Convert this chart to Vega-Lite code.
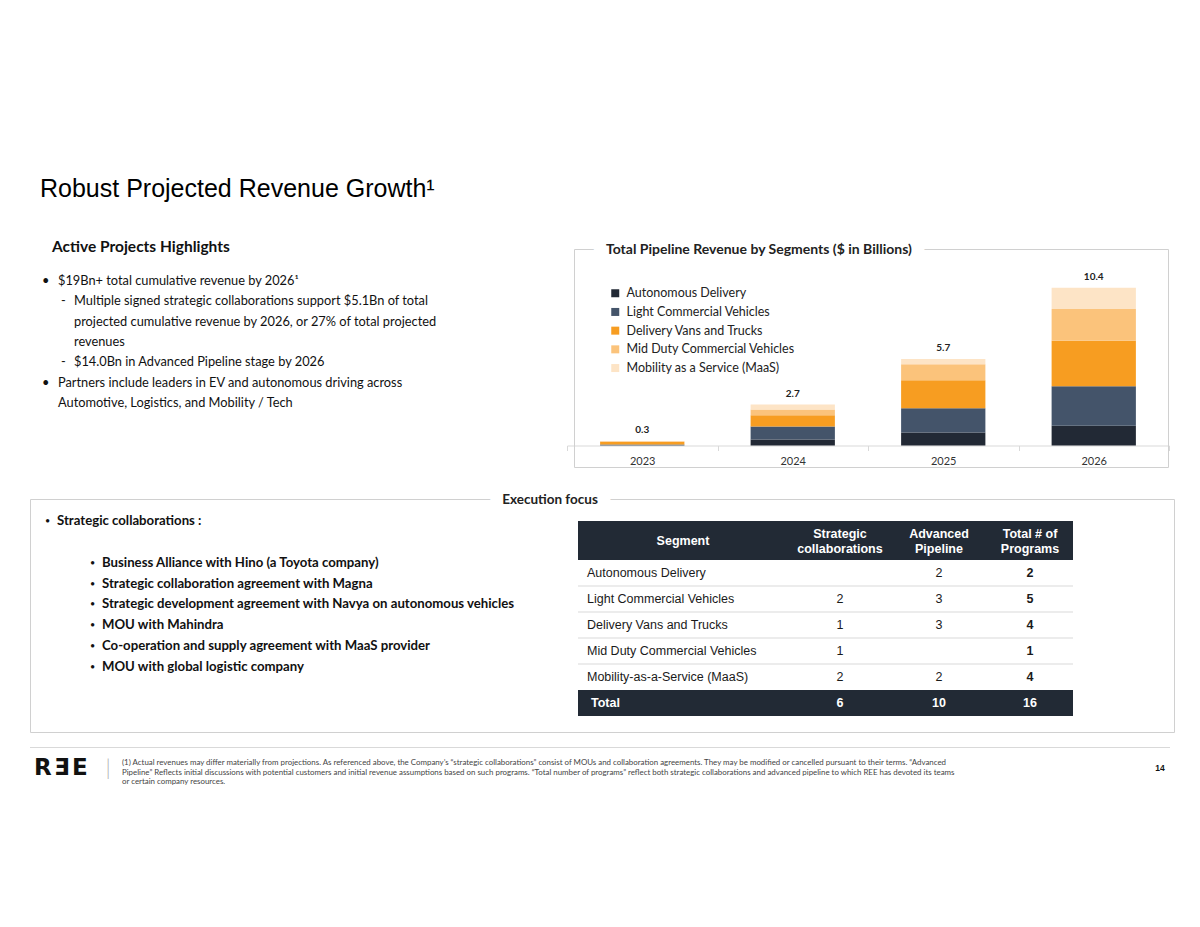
{
  "$schema": "https://vega.github.io/schema/vega-lite/v6.json",
  "width": 1200,
  "height": 927,
  "autosize": {"type": "fit", "contains": "padding"},
  "padding": 0,
  "background": "white",
  "config": {"view": {"stroke": null}, "font": "Lato"},
  "resolve": {"scale": {"x": "independent", "y": "independent", "color": "independent"}},
  "layer": [
    {
      "data": {"values": [
        {"kind": "title", "line": "l1", "level": 0, "marker": "", "text": "Robust Projected Revenue Growth¹"},
        {"kind": "heading", "line": "l1", "level": 0, "marker": "", "text": "Active Projects Highlights"},
        {"kind": "item", "line": "l1", "level": 1, "marker": "•", "text": "$19Bn+ total cumulative revenue by 2026¹"},
        {"kind": "item", "line": "l2", "level": 2, "marker": "-", "text": "Multiple signed strategic collaborations support $5.1Bn of total"},
        {"kind": "item", "line": "l3", "level": 2, "marker": "", "text": "projected cumulative revenue by 2026, or 27% of total projected"},
        {"kind": "item", "line": "l4", "level": 2, "marker": "", "text": "revenues"},
        {"kind": "item", "line": "l5", "level": 2, "marker": "-", "text": "$14.0Bn in Advanced Pipeline stage by 2026"},
        {"kind": "item", "line": "l6", "level": 1, "marker": "•", "text": "Partners include leaders in EV and autonomous driving across"},
        {"kind": "item", "line": "l7", "level": 1, "marker": "", "text": "Automotive, Logistics, and Mobility / Tech"}
      ]},
      "encoding": {
        "x": {"datum": 0, "type": "quantitative", "scale": {"domain": [0, 1], "range": [0, 1]}, "axis": null},
        "y": {"field": "line", "type": "nominal", "scale": {"type": "point", "domain": ["l1", "l2", "l3", "l4", "l5", "l6", "l7"], "range": [281, 403], "padding": 0}, "axis": null},
        "text": {"field": "text"}
      },
      "layer": [
        {"transform": [{"filter": "datum.kind == 'title'"}],
         "mark": {"type": "text", "align": "left", "baseline": "alphabetic", "font": "Liberation Sans", "fontSize": 25, "color": "#000000", "dx": 40, "dy": -84}},
        {"transform": [{"filter": "datum.kind == 'heading'"}],
         "mark": {"type": "text", "align": "left", "baseline": "middle", "font": "Lato", "fontWeight": "bold", "fontSize": 15.5, "color": "#111111", "dx": 52, "dy": -34}},
        {"transform": [{"filter": "datum.kind == 'item' && datum.level == 1 && datum.marker != ''"}],
         "mark": {"type": "text", "align": "left", "baseline": "middle", "fontSize": 12.8, "color": "#111111", "dx": 42},
         "encoding": {"text": {"field": "marker"}}},
        {"transform": [{"filter": "datum.kind == 'item' && datum.level == 2 && datum.marker != ''"}],
         "mark": {"type": "text", "align": "left", "baseline": "middle", "fontSize": 12.8, "color": "#111111", "dx": 61},
         "encoding": {"text": {"field": "marker"}}},
        {"transform": [{"filter": "datum.kind == 'item' && datum.level == 1"}],
         "mark": {"type": "text", "align": "left", "baseline": "middle", "fontSize": 12.8, "color": "#111111", "dx": 58}},
        {"transform": [{"filter": "datum.kind == 'item' && datum.level == 2"}],
         "mark": {"type": "text", "align": "left", "baseline": "middle", "fontSize": 12.8, "color": "#111111", "dx": 74}}
      ]
    },
    {
      "data": {"values": [{"t": "Total Pipeline Revenue by Segments ($ in Billions)"}]},
      "encoding": {
        "x": {"datum": 0, "type": "quantitative", "scale": {"domain": [0, 1], "range": [574.5, 1168.5]}, "axis": null},
        "y": {"datum": 0, "type": "quantitative", "scale": {"domain": [0, 1], "range": [467.5, 249.5]}, "axis": null}
      },
      "layer": [
        {"mark": {"type": "rect", "fillOpacity": 0, "stroke": "#d0d0d0", "strokeWidth": 1},
         "encoding": {"x2": {"datum": 1}, "y2": {"datum": 1}}},
        {"mark": {"type": "text", "align": "left", "baseline": "middle", "dx": 31.5, "fontSize": 14, "fontWeight": "bold", "color": "white", "stroke": "white", "strokeWidth": 26, "strokeJoin": "round"},
         "encoding": {"y": {"datum": 1, "type": "quantitative"}, "text": {"field": "t"}}},
        {"mark": {"type": "text", "align": "left", "baseline": "middle", "dx": 31.5, "fontSize": 14, "fontWeight": "bold", "color": "#222222"},
         "encoding": {"y": {"datum": 1, "type": "quantitative"}, "text": {"field": "t"}}}
      ]
    },
    {
      "data": {"values": [
        {"year": "2023", "segment": "Autonomous Delivery", "o": 1, "value": 0.02},
        {"year": "2023", "segment": "Light Commercial Vehicles", "o": 2, "value": 0.04},
        {"year": "2023", "segment": "Delivery Vans and Trucks", "o": 3, "value": 0.18},
        {"year": "2023", "segment": "Mid Duty Commercial Vehicles", "o": 4, "value": 0.04},
        {"year": "2023", "segment": "Mobility as a Service (MaaS)", "o": 5, "value": 0.02},
        {"year": "2024", "segment": "Autonomous Delivery", "o": 1, "value": 0.4},
        {"year": "2024", "segment": "Light Commercial Vehicles", "o": 2, "value": 0.85},
        {"year": "2024", "segment": "Delivery Vans and Trucks", "o": 3, "value": 0.75},
        {"year": "2024", "segment": "Mid Duty Commercial Vehicles", "o": 4, "value": 0.37},
        {"year": "2024", "segment": "Mobility as a Service (MaaS)", "o": 5, "value": 0.33},
        {"year": "2025", "segment": "Autonomous Delivery", "o": 1, "value": 0.85},
        {"year": "2025", "segment": "Light Commercial Vehicles", "o": 2, "value": 1.6},
        {"year": "2025", "segment": "Delivery Vans and Trucks", "o": 3, "value": 1.85},
        {"year": "2025", "segment": "Mid Duty Commercial Vehicles", "o": 4, "value": 1.05},
        {"year": "2025", "segment": "Mobility as a Service (MaaS)", "o": 5, "value": 0.35},
        {"year": "2026", "segment": "Autonomous Delivery", "o": 1, "value": 1.3},
        {"year": "2026", "segment": "Light Commercial Vehicles", "o": 2, "value": 2.6},
        {"year": "2026", "segment": "Delivery Vans and Trucks", "o": 3, "value": 3.0},
        {"year": "2026", "segment": "Mid Duty Commercial Vehicles", "o": 4, "value": 2.1},
        {"year": "2026", "segment": "Mobility as a Service (MaaS)", "o": 5, "value": 1.4}
      ]},
      "encoding": {
        "x": {"field": "year", "type": "nominal", "scale": {"type": "band", "range": [567, 1169], "paddingInner": 0, "paddingOuter": 0},
              "axis": {"title": null, "orient": "bottom", "offset": -481.5, "domainColor": "#d9d9d9", "tickColor": "#d9d9d9", "tickSize": 5, "tickBand": "extent", "labelFont": "Lato", "labelFontSize": 11, "labelColor": "#333333", "labelPadding": 5, "labelAngle": 0, "grid": false}}
      },
      "layer": [
        {
          "mark": {"type": "bar", "width": {"band": 0.56}},
          "encoding": {
            "y": {"field": "value", "type": "quantitative", "stack": "zero", "scale": {"domain": [0, 13], "range": [445.5, 248.16], "nice": false}, "axis": null},
            "color": {"field": "segment", "type": "nominal",
                      "scale": {"domain": ["Autonomous Delivery", "Light Commercial Vehicles", "Delivery Vans and Trucks", "Mid Duty Commercial Vehicles", "Mobility as a Service (MaaS)"],
                                "range": ["#222935", "#44546a", "#f79d21", "#fbc37b", "#fde4c6"]},
                      "legend": {"orient": "none", "legendX": 609, "legendY": 287, "title": null, "symbolType": "square", "symbolSize": 64, "symbolStrokeWidth": 0, "labelFont": "Lato", "labelFontSize": 12.5, "labelColor": "#222222", "labelOffset": 5, "rowPadding": 5.7, "padding": 0, "labelLimit": 300}},
            "order": {"field": "o", "type": "quantitative", "sort": "ascending"}
          }
        },
        {
          "transform": [{"aggregate": [{"op": "sum", "field": "value", "as": "total"}], "groupby": ["year"]}],
          "mark": {"type": "text", "baseline": "middle", "dy": -11, "fontSize": 10, "fontWeight": "bold", "color": "#222222"},
          "encoding": {
            "y": {"field": "total", "type": "quantitative"},
            "text": {"field": "total", "type": "quantitative", "format": ".1f"}
          }
        }
      ]
    },
    {
      "data": {"values": [{"t": "Execution focus"}]},
      "encoding": {
        "x": {"datum": 0, "type": "quantitative", "scale": {"domain": [0, 1], "range": [30.5, 1174.5]}, "axis": null},
        "y": {"datum": 0, "type": "quantitative", "scale": {"domain": [0, 1], "range": [732.5, 499.5]}, "axis": null}
      },
      "layer": [
        {"mark": {"type": "rect", "fillOpacity": 0, "stroke": "#d0d0d0", "strokeWidth": 1},
         "encoding": {"x2": {"datum": 1}, "y2": {"datum": 1}}},
        {"mark": {"type": "text", "align": "center", "baseline": "middle", "dx": 519.5, "fontSize": 13.5, "fontWeight": "bold", "color": "white", "stroke": "white", "strokeWidth": 26, "strokeJoin": "round"},
         "encoding": {"y": {"datum": 1, "type": "quantitative"}, "text": {"field": "t"}}},
        {"mark": {"type": "text", "align": "center", "baseline": "middle", "dx": 519.5, "fontSize": 13.5, "fontWeight": "bold", "color": "#222222"},
         "encoding": {"y": {"datum": 1, "type": "quantitative"}, "text": {"field": "t"}}}
      ]
    },
    {
      "data": {"values": [
        {"line": "s0", "level": 1, "text": "Strategic collaborations :"},
        {"line": "s1", "level": 2, "text": "Business Alliance with Hino (a Toyota company)"},
        {"line": "s2", "level": 2, "text": "Strategic collaboration agreement with Magna"},
        {"line": "s3", "level": 2, "text": "Strategic development agreement with Navya on autonomous vehicles"},
        {"line": "s4", "level": 2, "text": "MOU with Mahindra"},
        {"line": "s5", "level": 2, "text": "Co-operation and supply agreement with MaaS provider"},
        {"line": "s6", "level": 2, "text": "MOU with global logistic company"}
      ]},
      "encoding": {
        "x": {"datum": 0, "type": "quantitative", "scale": {"domain": [0, 1], "range": [0, 1]}, "axis": null},
        "y": {"field": "line", "type": "nominal", "scale": {"type": "point", "domain": ["s0", "gap", "s1", "s2", "s3", "s4", "s5", "s6"], "range": [521, 667], "padding": 0}, "axis": null}
      },
      "layer": [
        {"transform": [{"filter": "datum.level == 1"}], "mark": {"type": "text", "text": "•", "align": "left", "baseline": "middle", "fontSize": 9, "color": "#111111", "dx": 45}},
        {"transform": [{"filter": "datum.level == 2"}], "mark": {"type": "text", "text": "•", "align": "left", "baseline": "middle", "fontSize": 9, "color": "#111111", "dx": 90}},
        {"transform": [{"filter": "datum.level == 1"}], "mark": {"type": "text", "align": "left", "baseline": "middle", "fontSize": 13.2, "fontWeight": "bold", "color": "#111111", "dx": 57}, "encoding": {"text": {"field": "text"}}},
        {"transform": [{"filter": "datum.level == 2"}], "mark": {"type": "text", "align": "left", "baseline": "middle", "fontSize": 13.2, "fontWeight": "bold", "color": "#111111", "dx": 102}, "encoding": {"text": {"field": "text"}}}
      ]
    },
    {
      "data": {"values": [
        {"col": "seg", "label": "Segment"},
        {"col": "c1", "label": "Strategic\ncollaborations"},
        {"col": "c2", "label": "Advanced\nPipeline"},
        {"col": "c3", "label": "Total # of\nPrograms"}
      ]},
      "encoding": {
        "x": {"field": "col", "type": "nominal", "scale": {"type": "band", "domain": ["seg", "seg2", "c1", "c2", "c3"], "range": [578, 1073], "paddingInner": 0, "paddingOuter": 0}, "axis": null},
        "y": {"datum": "header", "type": "nominal", "scale": {"type": "band", "domain": ["header"], "range": [521, 560], "paddingInner": 0, "paddingOuter": 0}, "axis": null}
      },
      "layer": [
        {"transform": [{"filter": "datum.col == 'c1'"}], "mark": {"type": "rect", "width": 495, "color": "#222a35"}},
        {"transform": [{"filter": "datum.col == 'seg'"}], "mark": {"type": "text", "baseline": "middle", "font": "Liberation Sans", "fontWeight": "bold", "fontSize": 12.5, "color": "white", "dx": 55.5}, "encoding": {"text": {"field": "label"}}},
        {"transform": [{"filter": "datum.col == 'c1' || datum.col == 'c2'"}], "mark": {"type": "text", "baseline": "middle", "lineBreak": "\n", "lineHeight": 15, "font": "Liberation Sans", "fontWeight": "bold", "fontSize": 12.5, "color": "white", "dx": 14.5, "dy": -7}, "encoding": {"text": {"field": "label"}}},
        {"transform": [{"filter": "datum.col == 'c3'"}], "mark": {"type": "text", "baseline": "middle", "lineBreak": "\n", "lineHeight": 15, "font": "Liberation Sans", "fontWeight": "bold", "fontSize": 12.5, "color": "white", "dx": 6.5, "dy": -7}, "encoding": {"text": {"field": "label"}}}
      ]
    },
    {
      "data": {"values": [
        {"seg": "Autonomous Delivery", "c1": "", "c2": "2", "c3": "2"},
        {"seg": "Light Commercial Vehicles", "c1": "2", "c2": "3", "c3": "5"},
        {"seg": "Delivery Vans and Trucks", "c1": "1", "c2": "3", "c3": "4"},
        {"seg": "Mid Duty Commercial Vehicles", "c1": "1", "c2": "", "c3": "1"},
        {"seg": "Mobility-as-a-Service (MaaS)", "c1": "2", "c2": "2", "c3": "4"},
        {"seg": "Total", "c1": "6", "c2": "10", "c3": "16"}
      ]},
      "encoding": {
        "y": {"field": "seg", "type": "nominal", "scale": {"type": "band", "domain": ["Autonomous Delivery", "Light Commercial Vehicles", "Delivery Vans and Trucks", "Mid Duty Commercial Vehicles", "Mobility-as-a-Service (MaaS)", "Total"], "range": [560, 716], "paddingInner": 0, "paddingOuter": 0}, "axis": null}
      },
      "layer": [
        {"transform": [{"filter": "datum.seg == 'Total'"}], "mark": {"type": "rect", "width": 495, "color": "#222a35"},
         "encoding": {"x": {"datum": "c1", "type": "nominal", "scale": {"type": "band", "domain": ["seg", "seg2", "c1", "c2", "c3"], "range": [578, 1073], "paddingInner": 0, "paddingOuter": 0}, "axis": null}}},
        {"transform": [{"filter": "datum.seg != 'Total' && datum.seg != 'Mobility-as-a-Service (MaaS)'"}],
         "mark": {"type": "tick", "orient": "horizontal", "size": 495, "thickness": 1, "color": "#d9d9d9", "opacity": 1},
         "encoding": {
           "x": {"datum": "c1", "type": "nominal", "scale": {"type": "band", "domain": ["seg", "seg2", "c1", "c2", "c3"], "range": [578, 1073], "paddingInner": 0, "paddingOuter": 0}, "axis": null},
           "y": {"field": "seg", "type": "nominal", "bandPosition": 1}}},
        {"transform": [{"filter": "datum.seg != 'Total'"}],
         "mark": {"type": "text", "align": "left", "baseline": "middle", "font": "Liberation Sans", "fontSize": 12.5, "color": "#1a1a1a", "dx": -40.5},
         "encoding": {"x": {"datum": "seg", "type": "nominal", "scale": {"type": "band", "domain": ["seg", "seg2", "c1", "c2", "c3"], "range": [578, 1073], "paddingInner": 0, "paddingOuter": 0}, "axis": null}, "text": {"field": "seg"}}},
        {"transform": [{"filter": "datum.seg != 'Total'"}, {"fold": ["c1", "c2"], "as": ["col", "val"]}],
         "mark": {"type": "text", "baseline": "middle", "font": "Liberation Sans", "fontSize": 12.5, "color": "#1a1a1a", "dx": 14.5},
         "encoding": {"x": {"field": "col", "type": "nominal", "scale": {"type": "band", "domain": ["seg", "seg2", "c1", "c2", "c3"], "range": [578, 1073], "paddingInner": 0, "paddingOuter": 0}, "axis": null}, "text": {"field": "val"}}},
        {"transform": [{"filter": "datum.seg != 'Total'"}],
         "mark": {"type": "text", "baseline": "middle", "font": "Liberation Sans", "fontWeight": "bold", "fontSize": 12.5, "color": "#1a1a1a", "dx": 6.5},
         "encoding": {"x": {"datum": "c3", "type": "nominal", "scale": {"type": "band", "domain": ["seg", "seg2", "c1", "c2", "c3"], "range": [578, 1073], "paddingInner": 0, "paddingOuter": 0}, "axis": null}, "text": {"field": "c3"}}},
        {"transform": [{"filter": "datum.seg == 'Total'"}],
         "mark": {"type": "text", "align": "left", "baseline": "middle", "font": "Liberation Sans", "fontWeight": "bold", "fontSize": 12.5, "color": "white", "dx": -36.5},
         "encoding": {"x": {"datum": "seg", "type": "nominal", "scale": {"type": "band", "domain": ["seg", "seg2", "c1", "c2", "c3"], "range": [578, 1073], "paddingInner": 0, "paddingOuter": 0}, "axis": null}, "text": {"field": "seg"}}},
        {"transform": [{"filter": "datum.seg == 'Total'"}, {"fold": ["c1", "c2"], "as": ["col", "val"]}],
         "mark": {"type": "text", "baseline": "middle", "font": "Liberation Sans", "fontWeight": "bold", "fontSize": 12.5, "color": "white", "dx": 14.5},
         "encoding": {"x": {"field": "col", "type": "nominal", "scale": {"type": "band", "domain": ["seg", "seg2", "c1", "c2", "c3"], "range": [578, 1073], "paddingInner": 0, "paddingOuter": 0}, "axis": null}, "text": {"field": "val"}}},
        {"transform": [{"filter": "datum.seg == 'Total'"}],
         "mark": {"type": "text", "baseline": "middle", "font": "Liberation Sans", "fontWeight": "bold", "fontSize": 12.5, "color": "white", "dx": 6.5},
         "encoding": {"x": {"datum": "c3", "type": "nominal", "scale": {"type": "band", "domain": ["seg", "seg2", "c1", "c2", "c3"], "range": [578, 1073], "paddingInner": 0, "paddingOuter": 0}, "axis": null}, "text": {"field": "c3"}}}
      ]
    },
    {
      "data": {"values": [
        {"part": "rule", "t": ""},
        {"part": "logo", "t": "R\u200aƎ\u200aE"},
        {"part": "sep", "t": "|"},
        {"part": "note", "t": "(1) Actual revenues may differ materially from projections.  As referenced above, the Company’s “strategic collaborations” consist of MOUs and collaboration agreements.  They may be modified or cancelled pursuant to their terms.  “Advanced\nPipeline” Reflects initial discussions with potential customers and initial revenue assumptions based on such programs.  “Total number of programs” reflect both strategic collaborations and advanced pipeline to which REE has devoted its teams\nor certain company resources."},
        {"part": "page", "t": "14"}
      ]},
      "encoding": {
        "x": {"datum": 0, "type": "quantitative", "scale": {"domain": [0, 1], "range": [30, 1170]}, "axis": null},
        "y": {"datum": 0, "type": "quantitative", "scale": {"domain": [0, 1], "range": [747.5, 792.5]}, "axis": null}
      },
      "layer": [
        {"transform": [{"filter": "datum.part == 'rule'"}], "mark": {"type": "rule", "color": "#d9d9d9", "strokeWidth": 1}, "encoding": {"x2": {"datum": 1}}},
        {"transform": [{"filter": "datum.part == 'logo'"}], "mark": {"type": "text", "align": "left", "baseline": "middle", "font": "DejaVu Sans", "fontWeight": "bold", "fontSize": 23, "color": "#111111", "dx": 4, "dy": 20}, "encoding": {"text": {"field": "t"}}},
        {"transform": [{"filter": "datum.part == 'sep'"}], "mark": {"type": "text", "align": "center", "baseline": "middle", "font": "Lato", "fontWeight": 300, "fontSize": 22, "color": "#b0b0b0", "dx": 78, "dy": 20}, "encoding": {"text": {"field": "t"}}},
        {"transform": [{"filter": "datum.part == 'note'"}], "mark": {"type": "text", "align": "left", "baseline": "top", "lineBreak": "\n", "lineHeight": 9.5, "font": "Lato", "fontSize": 7.9, "color": "#444444", "dx": 92, "dy": 11.5}, "encoding": {"text": {"field": "t"}}},
        {"transform": [{"filter": "datum.part == 'page'"}], "mark": {"type": "text", "align": "center", "baseline": "middle", "font": "Liberation Sans", "fontWeight": "bold", "fontSize": 8.5, "color": "#111111", "dx": 1130, "dy": 20}, "encoding": {"text": {"field": "t"}}}
      ]
    }
  ]
}
